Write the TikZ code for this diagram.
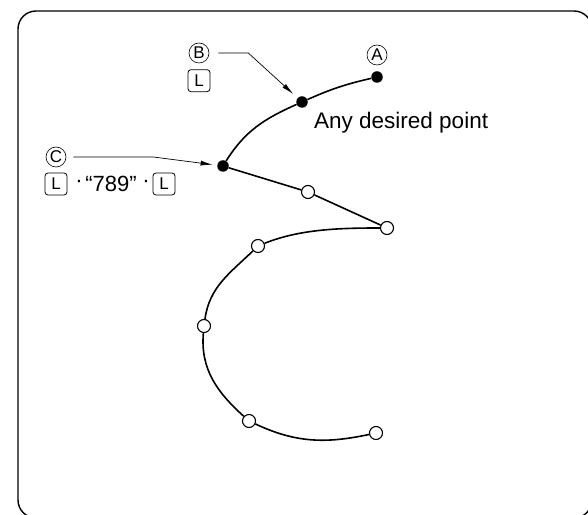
\documentclass[tikz,border=0pt]{standalone}
\usepackage{fontspec}
\setmainfont{Liberation Sans}
\usetikzlibrary{positioning}
\usetikzlibrary{arrows.meta}

\begin{document}
\begin{tikzpicture}[
        x=1pt, y=1pt,
        knot/.style={circle, fill=black, inner sep=0pt, minimum size=11.5pt},
        openknot/.style={circle, draw, fill=white, line width=1.1pt, inner sep=0pt, minimum size=13pt},
        circled/.style={circle, draw, line width=0.6pt, inner sep=0pt, minimum size=20pt, font=\fontsize{17}{17}\selectfont},
        keycap/.style={rectangle, draw, rounded corners=3pt, line width=0.8pt, inner sep=0pt, minimum size=22pt, font=\fontsize{17}{17}\selectfont},
        plain/.style={inner sep=0pt, font=\fontsize{22}{26}\selectfont},
        leader/.style={line width=0.7pt, -{Latex[length=12pt, width=5pt]}},
        curve/.style={line width=1.6pt}
    ]
        \useasboundingbox (0,0) rectangle (588,514);
        \draw[line width=1.4pt, rounded corners=18pt] (18,-4) rectangle (592,503);

        % filled points
        \node[knot] (A) at (377,437) {};
        \node[knot] (B) at (302,412) {};
        \node[knot] (C) at (223,348) {};
        % open points
        \node[openknot] (P1) at (308,322) {};
        \node[openknot] (P2) at (387,286) {};
        \node[openknot] (P3) at (258,268) {};
        \node[openknot] (P4) at (204,188) {};
        \node[openknot] (P5) at (249,93) {};
        \node[openknot] (P6) at (376,81) {};

        % labels
        \node[circled] (labA) at (377,459) {A};
        \node[circled] (labB) at (199,461) {B};
        \node[keycap, below=6pt of labB] (keyB) {L};
        \node[circled] (labC) at (56,357) {C};
        \node[keycap] (keyC1) at (56,330) {L};
        \node[plain] (dot1) at (79,330) {·};
        \node[plain] (digits) at (111,330) {“789”};
        \node[plain] (dot2) at (146,330) {·};
        \node[keycap] (keyC2) at (164,330) {L};
        \node[plain, anchor=base west, font=\fontsize{22.5}{27}\selectfont] (note) at (314,385) {Any desired point};

        % path
        \draw[curve] (A) to[out=193, in=24] (B) to[out=204, in=58] (C);
        \draw[curve] (C) -- (P1) -- (P2);
        \draw[curve] (P2) to[out=180, in=22, looseness=0.85] (P3) to[out=224, in=82] (P4)
            to[out=265, in=138] (P5) to[out=335, in=192] (P6);

        % leaders
        \draw[leader, shorten >=6pt] ([xshift=9pt]labB.east) -- ++(30,0) -- (B);
        \draw[leader, shorten >=4.5pt] ([xshift=7pt]labC.east) -- ++(80,0) -- (C);
    \end{tikzpicture}
\end{document}
